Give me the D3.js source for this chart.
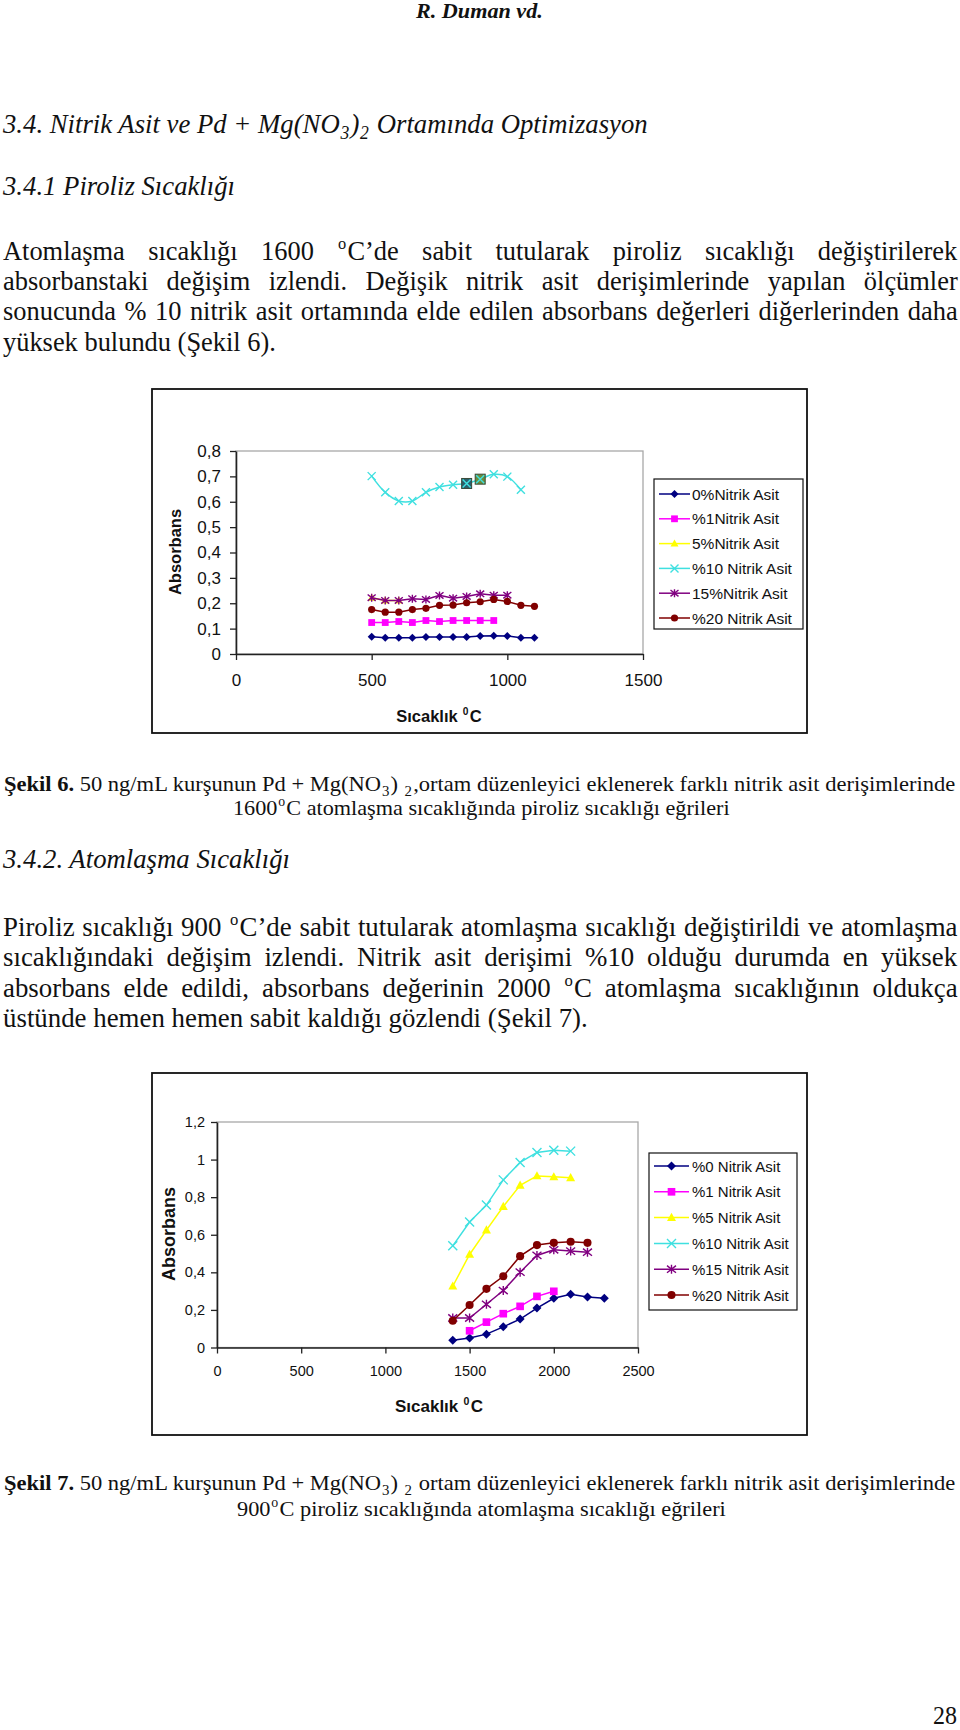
<!DOCTYPE html>
<html><head><meta charset="utf-8">
<script src="https://cdn.jsdelivr.net/npm/d3@7"></script>
<style>html,body{margin:0;padding:0;background:#fff}svg{display:block}</style>
</head><body>
<svg id="page" width="960" height="1730"></svg>
<script>
// ---------------- DATA ----------------
// Şekil 6: piroliz sıcaklığı (°C) vs absorbans
const fig6X = [500, 550, 600, 650, 700, 750, 800, 850, 900, 950, 1000, 1050, 1100];
const fig6_0  = [0.068, 0.064, 0.064, 0.064, 0.067, 0.067, 0.067, 0.067, 0.071, 0.072, 0.071, 0.064, 0.064];
const fig6_1  = [0.124, 0.124, 0.128, 0.124, 0.132, 0.128, 0.132, 0.132, 0.132, 0.132, null, null, null];
const fig6_5  = [0.222, 0.211, 0.211, null, null, null, null, null, null, null, null, null, null];
const fig6_10 = [0.701, 0.637, 0.603, 0.603, 0.637, 0.658, 0.667, 0.672, 0.689, 0.708, 0.699, 0.647, null];
const fig6_15 = [0.222, 0.211, 0.211, 0.218, 0.215, 0.231, 0.220, 0.227, 0.237, 0.232, 0.232, null, null];
const fig6_20 = [0.175, 0.165, 0.165, 0.175, 0.180, 0.192, 0.193, 0.202, 0.206, 0.215, 0.207, 0.192, 0.188];
const fig6Selected = [7, 8];   // selected (highlighted) points of the %10 series
const fig6Labels = ["0%Nitrik Asit", "%1Nitrik Asit", "5%Nitrik Asit", "%10 Nitrik Asit", "15%Nitrik Asit", "%20 Nitrik Asit"];
const fig6YTicks = [0, 0.1, 0.2, 0.3, 0.4, 0.5, 0.6, 0.7, 0.8];
const fig6XTicks = [0, 500, 1000, 1500];

// Şekil 7: atomlaşma sıcaklığı (°C) vs absorbans
const fig7X = [1400, 1500, 1600, 1700, 1800, 1900, 2000, 2100, 2200, 2300];
const fig7_0  = [0.039, 0.050, 0.071, 0.110, 0.151, 0.210, 0.262, 0.283, 0.269, 0.262];
const fig7_1  = [null, 0.089, 0.135, 0.180, 0.219, 0.272, 0.299, null, null, null];
const fig7_5  = [0.326, 0.495, 0.625, 0.750, 0.863, 0.913, 0.908, 0.903, null, null];
const fig7_10 = [0.541, 0.668, 0.758, 0.892, 0.985, 1.038, 1.050, 1.045, null, null];
const fig7_15 = [0.157, 0.157, 0.230, 0.303, 0.401, 0.490, 0.520, 0.513, 0.507, null];
const fig7_20 = [0.142, 0.226, 0.312, 0.379, 0.486, 0.545, 0.557, 0.563, 0.557, null];
const fig7Labels = ["%0 Nitrik Asit", "%1 Nitrik Asit", "%5 Nitrik Asit", "%10 Nitrik Asit", "%15 Nitrik Asit", "%20 Nitrik Asit"];
const fig7YTicks = [0, 0.2, 0.4, 0.6, 0.8, 1.0, 1.2];
const fig7XTicks = [0, 500, 1000, 1500, 2000, 2500];

// ---------------- STYLE ----------------
const seriesColors  = ['#000080', '#ff00ff', '#ffff00', '#3fe0e0', '#800080', '#800000'];
const seriesMarkers = ['diamond', 'square', 'triangle', 'x', 'asterisk', 'circle'];
const SERIF = "'Liberation Serif','Times New Roman',serif";
const SANS = "'Liberation Sans',Arial,sans-serif";

const svg = d3.select('#page');

// ---------------- TEXT HELPERS ----------------
function textLine(spec) {
  const g = svg.append('g');
  const t = g.append('text')
    .attr('font-family', SERIF)
    .attr('font-size', spec.size)
    .attr('font-style', spec.italic ? 'italic' : 'normal')
    .attr('font-weight', spec.bold ? 'bold' : 'normal')
    .attr('fill', '#111');
  let shift = 0;
  let full = '';
  let prevKind = '';
  spec.parts.forEach(p => {
    const str = typeof p === 'string' ? p : p[0];
    const kind = typeof p === 'string' ? '' : p[1];
    full += str;
    const ts = t.append('tspan').text(str);
    let target = 0;
    if (kind === 'sub') { target = spec.size * 0.22; ts.attr('font-size', spec.size * 0.66); }
    if (kind === 'sup') { target = -spec.size * 0.4; ts.attr('font-size', spec.size * 0.62); }
    if (kind === 'b') ts.attr('font-weight', 'bold');
    if (kind === 'sub' || kind === 'sup') ts.attr('dx', 0.8);
    else if (prevKind === 'sub' || prevKind === 'sup') ts.attr('dx', 1.2);
    if (target !== shift) { ts.attr('dy', target - shift); shift = target; }
    prevKind = kind;
  });
  const w = t.node().getBBox().width;
  let sx = spec.sx || 1;
  if (spec.mode === 'fit') sx = spec.width / w;
  if (spec.mode === 'justify') {
    const n = (full.match(/ /g) || []).length;
    const ws = (spec.width / sx - w) / n;
    t.attr('word-spacing', ws);
  }
  g.attr('transform', `translate(${spec.x},${spec.y}) scale(${sx},1)`);
  return sx;
}

// ---------------- PAGE TEXT ----------------
textLine({x: 416, y: 18, size: 21, bold: true, italic: true, parts: ['R. Duman vd.'], mode: 'fit', width: 128});

textLine({x: 3, y: 133, size: 28, italic: true, mode: 'fit', width: 646,
  parts: ['3.4. Nitrik Asit ve Pd + Mg(NO', ['3', 'sub'], ')', ['2', 'sub'], ' Ortamında Optimizasyon']});
textLine({x: 3, y: 195, size: 28, italic: true, mode: 'fit', width: 233, parts: ['3.4.1 Piroliz Sıcaklığı']});

// paragraph 1
{
  const sx = textLine({x: 3, y: 351, size: 27, mode: 'fit', width: 273, parts: ['yüksek bulundu (Şekil 6).']});
  textLine({x: 3, y: 260, size: 27, sx, mode: 'justify', width: 955,
    parts: ['Atomlaşma sıcaklığı 1600 ', ['o', 'sup'], 'C’de sabit tutularak piroliz sıcaklığı değiştirilerek']});
  textLine({x: 3, y: 290, size: 27, sx, mode: 'justify', width: 955,
    parts: ['absorbanstaki değişim izlendi. Değişik nitrik asit derişimlerinde yapılan ölçümler']});
  textLine({x: 3, y: 320, size: 27, sx, mode: 'justify', width: 955,
    parts: ['sonucunda % 10 nitrik asit ortamında elde edilen absorbans değerleri diğerlerinden daha']});
}

// caption 6
textLine({x: 4, y: 791, size: 22, mode: 'fit', width: 952,
  parts: [['Şekil 6.', 'b'], ' 50 ng/mL kurşunun Pd +  Mg(NO', ['3', 'sub'], ') ', ['2', 'sub'], ',ortam düzenleyici eklenerek farklı nitrik asit derişimlerinde']});
textLine({x: 233, y: 815, size: 22, mode: 'fit', width: 497,
  parts: ['1600', ['o', 'sup'], 'C atomlaşma sıcaklığında piroliz sıcaklığı eğrileri']});

textLine({x: 3, y: 868, size: 28, italic: true, mode: 'fit', width: 288, parts: ['3.4.2. Atomlaşma Sıcaklığı']});

// paragraph 2
{
  const sx = textLine({x: 3, y: 1027, size: 27, mode: 'fit', width: 585, parts: ['üstünde hemen hemen sabit kaldığı gözlendi (Şekil 7).']});
  textLine({x: 3, y: 936, size: 27, sx, mode: 'justify', width: 955,
    parts: ['Piroliz sıcaklığı 900 ', ['o', 'sup'], 'C’de sabit tutularak atomlaşma sıcaklığı değiştirildi ve atomlaşma']});
  textLine({x: 3, y: 966, size: 27, sx, mode: 'justify', width: 955,
    parts: ['sıcaklığındaki değişim izlendi. Nitrik asit derişimi %10 olduğu durumda en yüksek']});
  textLine({x: 3, y: 997, size: 27, sx, mode: 'justify', width: 955,
    parts: ['absorbans elde edildi, absorbans değerinin 2000 ', ['o', 'sup'], 'C atomlaşma sıcaklığının oldukça']});
}

// caption 7
textLine({x: 4, y: 1490, size: 22, mode: 'fit', width: 952,
  parts: [['Şekil 7.', 'b'], '  50 ng/mL kurşunun Pd +  Mg(NO', ['3', 'sub'], ') ', ['2', 'sub'], ' ortam düzenleyici eklenerek farklı nitrik asit derişimlerinde']});
textLine({x: 237, y: 1516, size: 22, mode: 'fit', width: 489,
  parts: ['900', ['o', 'sup'], 'C piroliz sıcaklığında atomlaşma sıcaklığı eğrileri']});

textLine({x: 933, y: 1724, size: 25, mode: 'fit', width: 24, parts: ['28']});

// ---------------- CHART HELPERS ----------------
function drawMarker(g, type, cx, cy, s, color) {
  const m = g.append('g').attr('transform', `translate(${cx},${cy})`);
  if (type === 'diamond') m.append('path').attr('d', `M0,${-s}L${s},0L0,${s}L${-s},0Z`).attr('fill', color);
  if (type === 'square') m.append('rect').attr('x', -s * 0.85).attr('y', -s * 0.85).attr('width', s * 1.7).attr('height', s * 1.7).attr('fill', color);
  if (type === 'triangle') m.append('path').attr('d', `M0,${-s * 1.05}L${s},${s * 0.75}L${-s},${s * 0.75}Z`).attr('fill', color);
  if (type === 'circle') m.append('circle').attr('r', s * 0.9).attr('fill', color);
  if (type === 'x') m.append('path').attr('d', `M${-s},${-s}L${s},${s}M${-s},${s}L${s},${-s}`).attr('stroke', color).attr('stroke-width', 1.4).attr('fill', 'none');
  if (type === 'asterisk') m.append('path').attr('d', `M${-s},${-s * 0.8}L${s},${s * 0.8}M${-s},${s * 0.8}L${s},${-s * 0.8}M0,${-s}L0,${s}`).attr('stroke', color).attr('stroke-width', 1.4).attr('fill', 'none');
}

// x-axis title "Sıcaklık ⁰C" built from separate text pieces laid out left to right
function xTitle(g, cx, yb, size) {
  const pieces = [
    {t: 'Sıcaklık', s: size, dy: 0, gap: size * 0.3},
    {t: '0', s: size * 0.62, dy: -size * 0.42, gap: 1.5},
    {t: 'C', s: size, dy: 0, gap: 0}
  ];
  const nodes = pieces.map(p => g.append('text').attr('font-family', SANS).attr('font-weight', 'bold')
    .attr('font-size', p.s).attr('fill', '#111').attr('y', yb + p.dy).text(p.t));
  const widths = nodes.map(n => n.node().getComputedTextLength());
  const total = widths.reduce((a, b, i) => a + b + pieces[i].gap, 0);
  let xx = cx - total / 2;
  nodes.forEach((n, i) => { n.attr('x', xx); xx += widths[i] + pieces[i].gap; });
}

function drawChart(cfg) {
  const g = svg.append('g');
  // outer frame
  g.append('rect').attr('x', cfg.frame[0]).attr('y', cfg.frame[1]).attr('width', cfg.frame[2]).attr('height', cfg.frame[3])
    .attr('fill', '#fff').attr('stroke', '#111').attr('stroke-width', 1.8);
  const x = d3.scaleLinear().domain(cfg.xDomain).range([cfg.plot.left, cfg.plot.right]);
  const y = d3.scaleLinear().domain(cfg.yDomain).range([cfg.plot.bottom, cfg.plot.top]);
  // plot area border (grey)
  g.append('rect').attr('x', cfg.plot.left).attr('y', cfg.plot.top)
    .attr('width', cfg.plot.right - cfg.plot.left).attr('height', cfg.plot.bottom - cfg.plot.top)
    .attr('fill', 'none').attr('stroke', '#a8a8a8').attr('stroke-width', 1.3);
  const fmt = d => String(+d.toFixed(2)).replace('.', ',');
  const ya = g.append('g').attr('transform', `translate(${cfg.plot.left},0)`)
    .call(d3.axisLeft(y).tickValues(cfg.yTicks).tickFormat(fmt).tickSize(6).tickSizeOuter(0).tickPadding(cfg.yPad));
  const xa = g.append('g').attr('transform', `translate(0,${cfg.plot.bottom})`)
    .call(d3.axisBottom(x).tickValues(cfg.xTicks).tickFormat(d => String(d)).tickSize(6).tickSizeOuter(0).tickPadding(cfg.xPad));
  [ya, xa].forEach(a => {
    a.selectAll('path.domain').attr('stroke', '#222').attr('stroke-width', 1.6);
    a.selectAll('line').attr('stroke', '#222').attr('stroke-width', 1.3);
    a.selectAll('text').attr('font-family', SANS).attr('font-size', cfg.tickSize).attr('fill', '#111');
  });
  // axis titles
  g.append('text').attr('transform', `translate(${cfg.yTitle[0]},${cfg.yTitle[1]}) rotate(-90)`)
    .attr('text-anchor', 'middle').attr('dominant-baseline', 'central')
    .attr('font-family', SANS).attr('font-weight', 'bold').attr('font-size', cfg.yTitleSize).attr('fill', '#111').text('Absorbans');
  xTitle(g, cfg.xTitle[0], cfg.xTitle[1], cfg.xTitleSize);

  // series
  cfg.series.forEach((vals, si) => {
    const pts = [];
    vals.forEach((v, i) => { if (v != null) pts.push({x: cfg.X[i], y: v, i}); });
    const line = d3.line().x(d => x(d.x)).y(d => y(d.y));
    if (cfg.smooth && cfg.smooth[si]) line.curve(d3.curveCatmullRom.alpha(0.5));
    g.append('path').attr('d', line(pts)).attr('fill', 'none').attr('stroke', seriesColors[si]).attr('stroke-width', 1.5);
    pts.forEach(p => {
      if (cfg.selected && cfg.selected.series === si && cfg.selected.idx.includes(p.i)) {
        const k = cfg.selected.idx.indexOf(p.i);
        const fill = ['#2b5f6b', '#6a8c3a'][k % 2];
        const s = cfg.markerSize * 1.25;
        g.append('rect').attr('x', x(p.x) - s).attr('y', y(p.y) - s).attr('width', 2 * s).attr('height', 2 * s)
          .attr('fill', fill).attr('stroke', '#3a4a3a').attr('stroke-width', 1);
      }
      drawMarker(g, seriesMarkers[si], x(p.x), y(p.y), cfg.markerSize, seriesColors[si]);
    });
  });

  // legend
  const L = cfg.legend;
  g.append('rect').attr('x', L.x).attr('y', L.y).attr('width', L.w).attr('height', L.h)
    .attr('fill', '#fff').attr('stroke', '#111').attr('stroke-width', 1.2);
  cfg.labels.forEach((lab, i) => {
    const yy = L.y0 + i * L.step;
    g.append('line').attr('x1', L.lx1).attr('x2', L.lx2).attr('y1', yy).attr('y2', yy)
      .attr('stroke', seriesColors[i]).attr('stroke-width', 1.5);
    drawMarker(g, seriesMarkers[i], (L.lx1 + L.lx2) / 2, yy, cfg.markerSize, seriesColors[i]);
    g.append('text').attr('x', L.tx).attr('y', yy).attr('dominant-baseline', 'central')
      .attr('font-family', SANS).attr('font-size', L.size).attr('fill', '#111').text(lab);
  });
}

drawChart({
  frame: [152, 389, 655, 344],
  plot: {left: 236, right: 643, top: 451, bottom: 654},
  xDomain: [0, 1500], yDomain: [0, 0.8],
  xTicks: fig6XTicks, yTicks: fig6YTicks,
  tickSize: 17, yPad: 9, xPad: 14,
  yTitle: [175, 552], yTitleSize: 16.5,
  xTitle: [439, 722], xTitleSize: 16.5,
  X: fig6X,
  series: [fig6_0, fig6_1, fig6_5, fig6_10, fig6_15, fig6_20],
  smooth: [false, false, false, true, false, false],
  selected: {series: 3, idx: fig6Selected},
  labels: fig6Labels,
  markerSize: 4,
  legend: {x: 654, y: 479, w: 149, h: 150, y0: 494, step: 24.8, lx1: 659, lx2: 690, tx: 692, size: 15.5}
});

drawChart({
  frame: [152, 1073, 655, 362],
  plot: {left: 217, right: 638, top: 1122, bottom: 1347.5},
  xDomain: [0, 2500], yDomain: [0, 1.2],
  xTicks: fig7XTicks, yTicks: fig7YTicks,
  tickSize: 14.5, yPad: 6, xPad: 12,
  yTitle: [169, 1234], yTitleSize: 18,
  xTitle: [439, 1412], xTitleSize: 17,
  X: fig7X,
  series: [fig7_0, fig7_1, fig7_5, fig7_10, fig7_15, fig7_20],
  labels: fig7Labels,
  markerSize: 4.5,
  legend: {x: 649, y: 1153, w: 148, h: 157, y0: 1166, step: 25.8, lx1: 654, lx2: 689, tx: 692, size: 15}
});
</script>
</body></html>
